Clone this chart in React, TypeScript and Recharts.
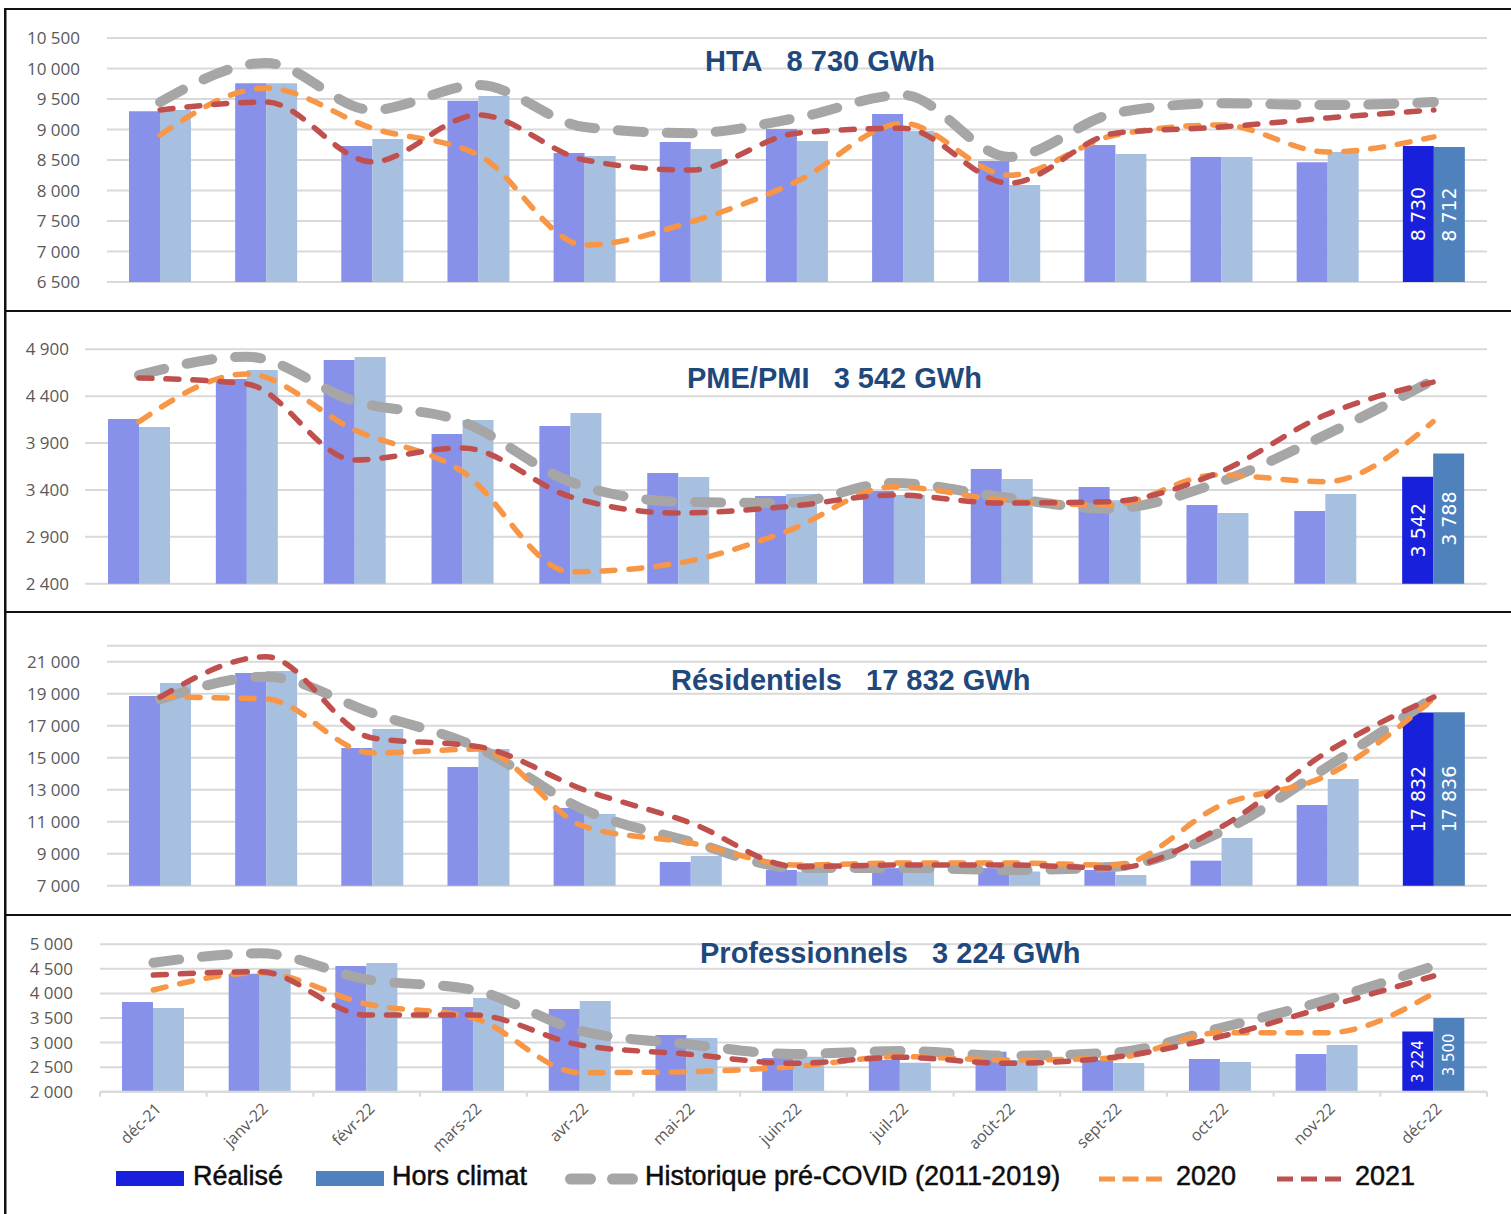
import { ComposedChart, Bar, Line, XAxis, YAxis, CartesianGrid, Cell, LabelList } from 'recharts';

const months = ['déc-21', 'janv-22', 'févr-22', 'mars-22', 'avr-22', 'mai-22', 'juin-22', 'juil-22', 'août-22', 'sept-22', 'oct-22', 'nov-22', 'déc-22'];

// HTA
const htaRealise = [9300, 9760, 8730, 9470, 8615, 8795, 9010, 9255, 8485, 8745, 8550, 8465, 8730];
const htaHorsClimat = [9320, 9760, 8845, 9550, 8565, 8680, 8810, 8975, 8090, 8600, 8550, 8630, 8712];
const htaHistorique = [9450, 10090, 9320, 9730, 9040, 8940, 9190, 9565, 8550, 9270, 9430, 9400, 9450];
const hta2020 = [8910, 9680, 9020, 8580, 7105, 7485, 8150, 9100, 8250, 8910, 9075, 8630, 8880];
const hta2021 = [9320, 9450, 8470, 9240, 8500, 8335, 8940, 9020, 8120, 8940, 9040, 9190, 9320];

// PME/PMI
const pmeRealise = [4157, 4584, 4787, 3997, 4082, 3581, 3335, 3390, 3624, 3432, 3240, 3176, 3542];
const pmeHorsClimat = [4071, 4680, 4819, 4146, 4221, 3538, 3357, 3345, 3517, 3290, 3153, 3357, 3788];
const pmeHistorique = [4624, 4821, 4347, 4128, 3488, 3275, 3260, 3475, 3325, 3200, 3475, 3985, 4570];
const pme2020 = [4128, 4637, 4040, 3595, 2528, 2620, 2955, 3435, 3293, 3240, 3560, 3488, 4128];
const pme2021 = [4594, 4530, 3720, 3848, 3328, 3154, 3221, 3346, 3260, 3275, 3580, 4200, 4550];

// Résidentiels
const resRealise = [18860, 20290, 15610, 14420, 11860, 8480, 7980, 8100, 8100, 7980, 8565, 12040, 17832];
const resHorsClimat = [19670, 20420, 16790, 15540, 11480, 8860, 7880, 8100, 7880, 7670, 9980, 13670, 17836];
const resHistorique = [18650, 20060, 17790, 15610, 11730, 9750, 8110, 8110, 7980, 8190, 10380, 14440, 18780];
const res2020 = [18790, 18670, 15290, 15540, 10690, 9670, 8290, 8420, 8420, 8290, 12040, 13920, 18730];
const res2021 = [18790, 21310, 16230, 15690, 12980, 10920, 8190, 8290, 8290, 8110, 10690, 15380, 18790];

// Professionnels
const proRealise = [3825, 4400, 4558, 3723, 3683, 3154, 2686, 2645, 2814, 2645, 2665, 2767, 3224];
const proHorsClimat = [3703, 4497, 4619, 3907, 3846, 3093, 2712, 2590, 2645, 2584, 2604, 2950, 3500];
const proHistorique = [4625, 4816, 4287, 4070, 3241, 2970, 2767, 2828, 2733, 2794, 3296, 3866, 4560];
const pro2020 = [4070, 4421, 3785, 3500, 2387, 2407, 2509, 2712, 2645, 2685, 3200, 3200, 4002];
const pro2021 = [4375, 4442, 3561, 3561, 2950, 2767, 2578, 2700, 2578, 2700, 3120, 3730, 4355];

const htaTicks = [6500, 7000, 7500, 8000, 8500, 9000, 9500, 10000, 10500];
const pmeTicks = [2400, 2900, 3400, 3900, 4400, 4900];
const resTicks = [7000, 9000, 11000, 13000, 15000, 17000, 19000, 21000];
const proTicks = [2000, 2500, 3000, 3500, 4000, 4500, 5000];

const C_REAL = '#8891e9';
const C_REAL_LAST = '#1820dc';
const C_HORS = '#a8c0df';
const C_HORS_LAST = '#4f81bd';
const C_HIST = '#a6a6a6';
const C_2020 = '#f79646';
const C_2021 = '#c0504d';
const TITLE = '#1f497d';

const fmt = (v: number) => String(v).replace(/\B(?=(\d{3})+(?!\d))/g, ' ');

const build = (r: number[], h: number[], hist: number[], a: number[], b: number[]) =>
  months.map((m, i) => ({ month: m, realise: r[i], hors: h[i], hist: hist[i], y2020: a[i], y2021: b[i] }));

const vLabel = (fontSize: number) => (props: any) => {
  const { index, value } = props;
  if (index !== months.length - 1) return null;
  const vb = props.viewBox ?? props;
  const cx = vb.x + vb.width / 2;
  const cy = vb.y + vb.height / 2;
  return (
    <text
      x={cx}
      y={cy}
      transform={`rotate(-90, ${cx}, ${cy})`}
      textAnchor="middle"
      dominantBaseline="central"
      fill="#fff"
      fontSize={fontSize}
      fontFamily="DejaVu Sans"
    >
      {fmt(value)}
    </text>
  );
};

const BAND4 = (1487 - 100) / 13;

const XTick = (props: any) => {
  const { x, y, payload, index } = props;
  const half = BAND4 / 2;
  return (
    <g>
      <line x1={x - half} x2={x - half} y1={y} y2={y + 5} stroke="#d9d9d9" strokeWidth={2} />
      {index === months.length - 1 && (
        <line x1={x + half} x2={x + half} y1={y} y2={y + 5} stroke="#d9d9d9" strokeWidth={2} />
      )}
      <text
        transform={`translate(${x + 9}, ${y + 18}) rotate(-45)`}
        textAnchor="end"
        fontSize={16}
        fontFamily="Open Sans"
        fill="#595959"
      >
        {payload.value}
      </text>
    </g>
  );
};

interface PanelProps {
  data: any[];
  top: number;
  height: number;
  margin: { top: number; bottom: number; left: number; right: number };
  yWidth: number;
  tickMargin: number;
  domain: [number, number];
  ticks: number[];
  showX?: boolean;
  labelSize: number;
}

function Panel({ data, top, height, margin, yWidth, tickMargin, domain, ticks, showX, labelSize }: PanelProps) {
  const last = data.length - 1;
  return (
    <div style={{ position: 'absolute', left: 0, top, width: 1511, height }}>
      <ComposedChart width={1511} height={height} data={data} margin={margin} barGap={0}>
        <CartesianGrid horizontal vertical={false} stroke="#d9d9d9" strokeWidth={2} />
        <XAxis
          dataKey="month"
          hide={!showX}
          interval={0}
          height={60}
          tickLine={false}
          tickSize={0}
          tickMargin={0}
          axisLine={{ stroke: '#d9d9d9', strokeWidth: 2 }}
          tick={<XTick />}
        />
        <YAxis
          type="number"
          domain={domain}
          ticks={ticks}
          interval={0}
          width={yWidth}
          tickLine={false}
          axisLine={false}
          tickSize={0}
          tickMargin={tickMargin}
          tickFormatter={fmt}
          tick={{ fill: '#595959', fontSize: 17, fontFamily: 'Open Sans' }}
        />
        <Bar dataKey="realise" barSize={31} isAnimationActive={false}>
          {data.map((_, i) => (
            <Cell key={i} fill={i === last ? C_REAL_LAST : C_REAL} />
          ))}
          <LabelList dataKey="realise" content={vLabel(labelSize)} />
        </Bar>
        <Bar dataKey="hors" barSize={31} isAnimationActive={false}>
          {data.map((_, i) => (
            <Cell key={i} fill={i === last ? C_HORS_LAST : C_HORS} />
          ))}
          <LabelList dataKey="hors" content={vLabel(labelSize)} />
        </Bar>
        <Line
          type="monotone"
          dataKey="hist"
          stroke={C_HIST}
          strokeWidth={10}
          strokeDasharray="26 23"
          strokeLinecap="round"
          dot={false}
          activeDot={false}
          isAnimationActive={false}
        />
        <Line
          type="monotone"
          dataKey="y2020"
          stroke={C_2020}
          strokeWidth={5.5}
          strokeDasharray="13 14"
          strokeLinecap="round"
          dot={false}
          activeDot={false}
          isAnimationActive={false}
        />
        <Line
          type="monotone"
          dataKey="y2021"
          stroke={C_2021}
          strokeWidth={5.5}
          strokeDasharray="13 14"
          strokeLinecap="round"
          dot={false}
          activeDot={false}
          isAnimationActive={false}
        />
      </ComposedChart>
    </div>
  );
}

const gap = '\u00a0\u00a0\u00a0';

export default function App() {
  return (
    <div style={{ position: 'fixed', left: 0, top: 0, width: 1511, height: 1214, overflow: 'hidden', background: '#fff' }}>
      <Panel
        data={build(htaRealise, htaHorsClimat, htaHistorique, hta2020, hta2021)}
        top={10}
        height={300}
        margin={{ top: 28, bottom: 28, left: 27, right: 24 }}
        yWidth={80}
        tickMargin={27}
        domain={[6500, 10500]}
        ticks={htaTicks}
        labelSize={19}
      />
      <Panel
        data={build(pmeRealise, pmeHorsClimat, pmeHistorique, pme2020, pme2021)}
        top={312}
        height={298}
        margin={{ top: 37.3, bottom: 26.3, left: 25, right: 24 }}
        yWidth={60}
        tickMargin={16}
        domain={[2400, 4900]}
        ticks={pmeTicks}
        labelSize={19}
      />
      <Panel
        data={build(resRealise, resHorsClimat, resHistorique, res2020, res2021)}
        top={613}
        height={300}
        margin={{ top: 32.7, bottom: 27.3, left: 27, right: 24 }}
        yWidth={80}
        tickMargin={27}
        domain={[7000, 22000]}
        ticks={resTicks}
        labelSize={19}
      />
      <Panel
        data={build(proRealise, proHorsClimat, proHistorique, pro2020, pro2021)}
        top={916}
        height={298}
        margin={{ top: 28.3, bottom: 62.3, left: 27, right: 24 }}
        yWidth={73}
        tickMargin={27}
        domain={[2000, 5000]}
        ticks={proTicks}
        showX
        labelSize={15}
      />
      <svg
        width={1511}
        height={1214}
        style={{ position: 'absolute', left: 0, top: 0, pointerEvents: 'none' }}
      >
        <rect x={4} y={8} width={1507} height={2} fill="#111" />
        <rect x={4} y={310} width={1507} height={2} fill="#111" />
        <rect x={4} y={611} width={1507} height={2} fill="#111" />
        <rect x={4} y={914} width={1507} height={2} fill="#111" />
        <rect x={4} y={8} width={2.5} height={1206} fill="#111" />

        <g fontFamily="Liberation Sans" fontWeight={700} fontSize={29} fill={TITLE}>
          <text x={705} y={71}>{`HTA${gap}8 730 GWh`}</text>
          <text x={687} y={388}>{`PME/PMI${gap}3 542 GWh`}</text>
          <text x={671} y={690}>{`Résidentiels${gap}17 832 GWh`}</text>
          <text x={700} y={963}>{`Professionnels${gap}3 224 GWh`}</text>
        </g>

        <g fontFamily="Liberation Sans" fontSize={27} fill="#0d0d0d" stroke="#0d0d0d" strokeWidth={0.5}>
          <rect x={116} y={1171} width={68} height={15} fill={C_REAL_LAST} stroke="none" />
          <text x={193} y={1185}>Réalisé</text>
          <rect x={316} y={1171} width={68} height={15} fill={C_HORS_LAST} stroke="none" />
          <text x={392} y={1185}>Hors climat</text>
          <line x1={570.5} x2={632.5} y1={1179} y2={1179} stroke={C_HIST} strokeWidth={11} strokeLinecap="round" strokeDasharray="20 22" />
          <text x={645} y={1185}>Historique pré-COVID (2011-2019)</text>
          <line x1={1099} x2={1162} y1={1179} y2={1179} stroke={C_2020} strokeWidth={5} strokeDasharray="16 7.5" />
          <text x={1176} y={1185}>2020</text>
          <line x1={1277} x2={1342} y1={1179} y2={1179} stroke={C_2021} strokeWidth={5} strokeDasharray="16 8" />
          <text x={1355} y={1185}>2021</text>
        </g>
      </svg>
    </div>
  );
}
